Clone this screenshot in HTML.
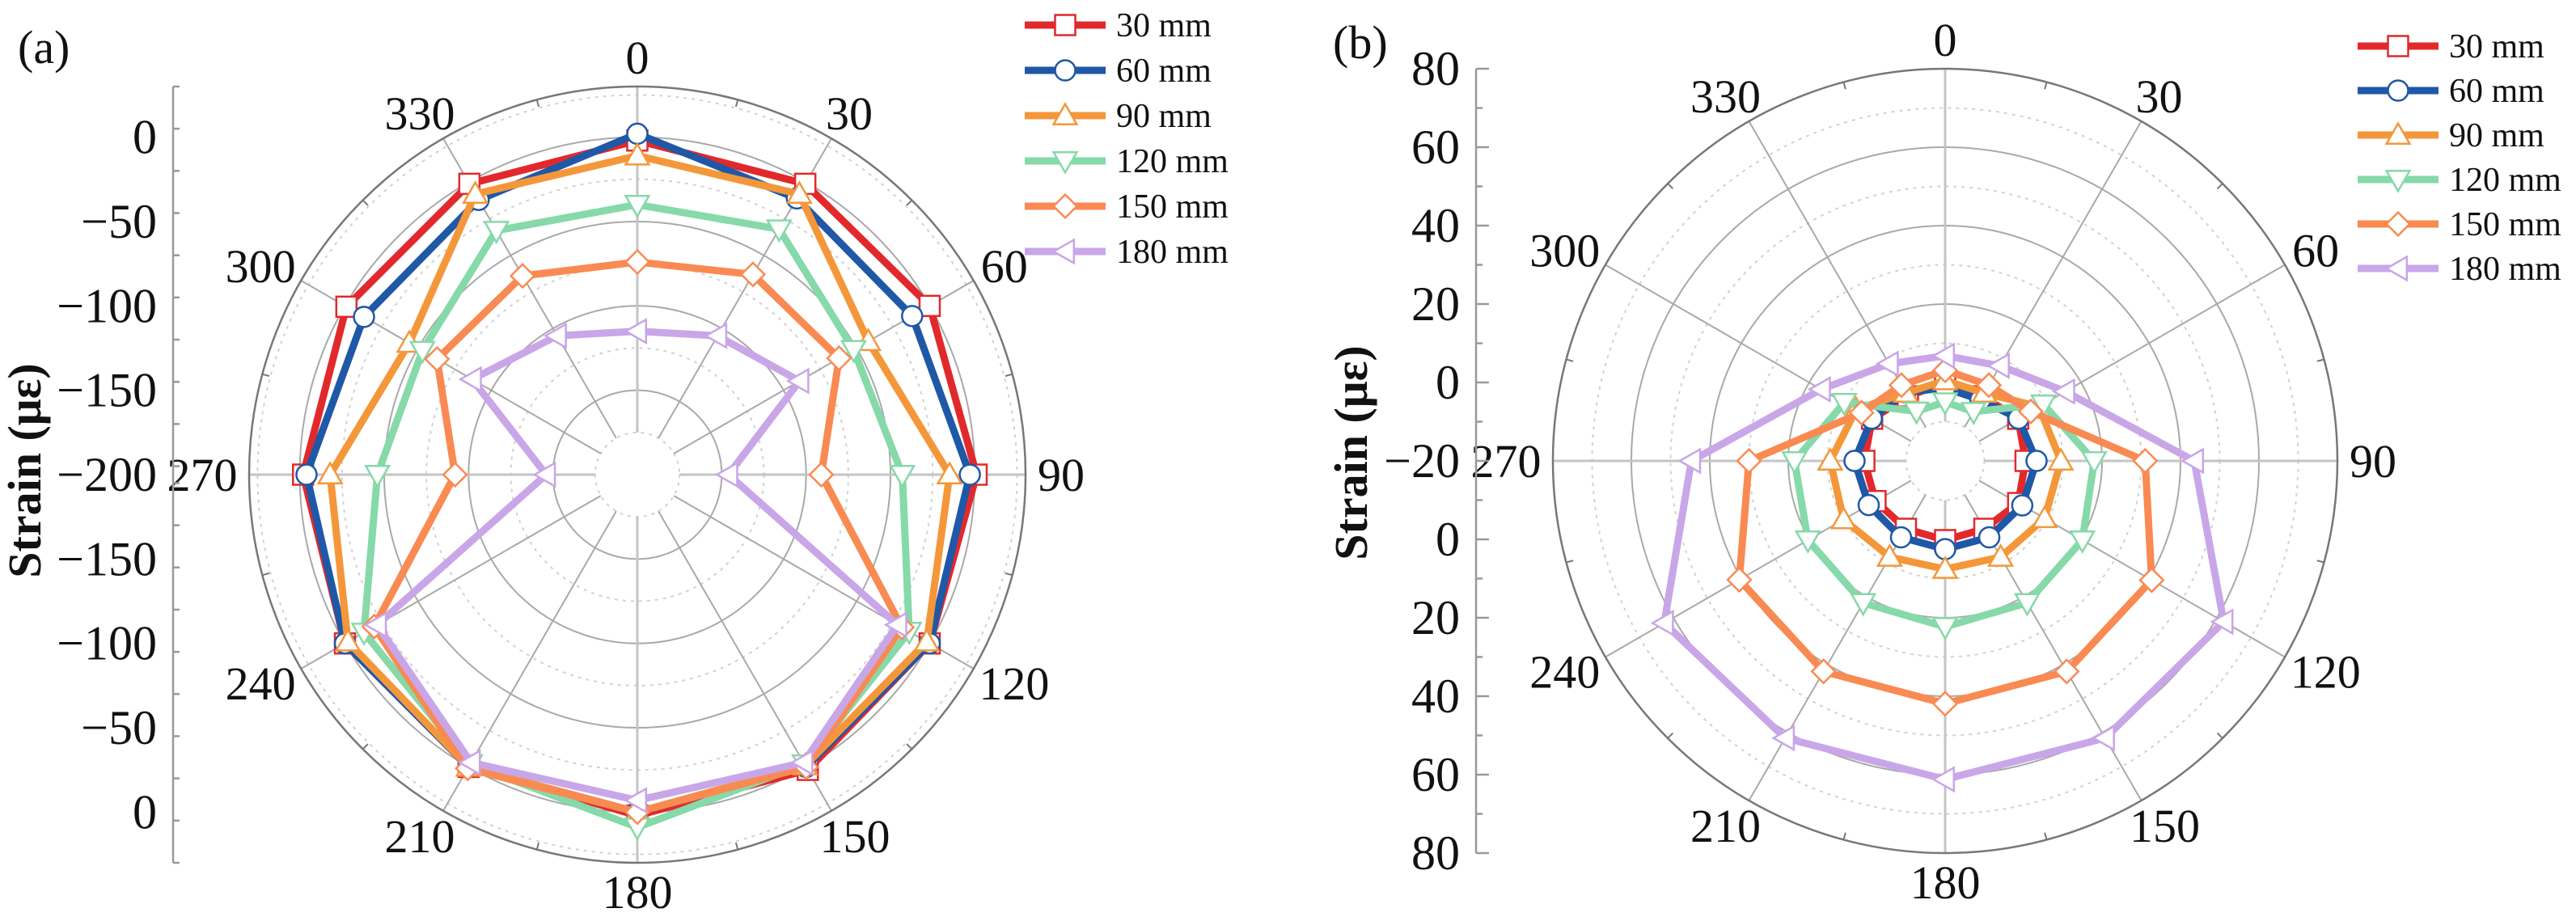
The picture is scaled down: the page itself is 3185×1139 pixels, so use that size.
<!DOCTYPE html>
<html><head><meta charset="utf-8">
<style>
html,body{margin:0;padding:0;background:#fff;}
svg{display:block;font-family:"Liberation Serif","Times New Roman",serif;}
svg text{font-family:"Liberation Serif","Times New Roman",serif;fill:#111;}
</style></head>
<body>
<svg id="fig" width="3185" height="1139" viewBox="0 0 3185 1139" font-family="Liberation Serif, serif" xmlns="http://www.w3.org/2000/svg"></svg>
<script>
// ---- data ----
const angles = [0,30,60,90,120,150,180,210,240,270,300,330];
const seriesNames = ["30 mm","60 mm","90 mm","120 mm","150 mm","180 mm"];
const seriesColors = ["#E1292C","#1F58A6","#F4973A","#86D9A9","#F98A52","#C9A6E8"];
const seriesMarkers = ["square","circle","triangle-up","triangle-down","diamond","triangle-left"];
// chart (a)
const a30  = [-2,-1,0,1,0,2,2,0,0,-2,-1,-1];
const a60  = [2,-11,-12,-3,0,0,0,0,0,-4,-13,-12];
const a90  = [-11,-8,-42,-15,-2,-1,0,0,-2,-18,-44,-8];
const a120 = [-40,-32,-52,-43,-14,-2,9,-2,-13,-46,-53,-33];
const a150 = [-74,-63,-62,-91,-19,0,0,1,-20,-92,-63,-64];
const a180 = [-115,-105,-89,-146,-22,-3,-7,-3,-22,-146,-87,-105];
const aTickLabels = ["0","\u221250","\u2212100","\u2212150","\u2212200","\u2212150","\u2212100","\u221250","0"];
// chart (b)
const b30  = [0,-1,1.5,0.5,1.5,0,0.2,0,0.5,0.6,1.5,-1];
const b60  = [-1.4,-2,1.6,3.3,2.7,2.5,2.5,2.5,2.5,3.1,1.6,0.2];
const b90  = [0.5,0,7.6,9.5,9.3,8.3,7.6,8.3,9.9,9.3,6.2,0];
const b120 = [-5,-5.5,8.9,18,20.4,21.8,22.3,21.8,20.4,18.4,9.7,-5.4];
const b150 = [3.1,2.3,5.2,31,40.8,42,41.9,42,40.6,30,4.6,2.3];
const b180 = [6.8,8,15.4,43.5,62,61.6,61.2,61.6,62.7,44.7,16.5,8.6];
const bTickLabels = ["80","60","40","20","0","\u221220","0","20","40","60","80"];

const NS = "http://www.w3.org/2000/svg";
const svg = document.getElementById("fig");
const FONT = "'Liberation Serif', 'Times New Roman', serif";
function mk(tag, attrs, parent){
  const e = document.createElementNS(NS, tag);
  for (const k in attrs) e.setAttribute(k, attrs[k]);
  if (tag === "text") { e.setAttribute("font-family", FONT); e.style.fontFamily = FONT; }
  (parent||svg).appendChild(e);
  return e;
}

function markerShape(g, type, x, y, s, color){
  let e;
  const h = s/2;
  const st = {fill:"#fff", stroke:color, "stroke-width":2.5};
  if (type==="square") e = mk("rect", Object.assign({x:x-h,y:y-h,width:s,height:s}, st), g);
  else if (type==="circle") e = mk("circle", Object.assign({cx:x,cy:y,r:h}, st), g);
  else {
    let pts;
    const t = h*1.15;
    if (type==="triangle-up") pts = [[x,y-t],[x+t,y+t*0.75],[x-t,y+t*0.75]];
    else if (type==="triangle-down") pts = [[x,y+t],[x+t,y-t*0.75],[x-t,y-t*0.75]];
    else if (type==="triangle-left") pts = [[x-t,y],[x+t*0.75,y-t],[x+t*0.75,y+t]];
    else pts = [[x,y-t],[x+t,y],[x,y+t],[x-t,y]];
    e = mk("polygon", Object.assign({points:pts.map(p=>p.join(",")).join(" ")}, st), g);
  }
  return e;
}

function drawChart(cfg){
  const g = mk("g", {});
  
  
  const cx = cfg.cx, cy = cfg.cy, R = cfg.R;
  const k = R/(cfg.rmax-cfg.rmin);
  const rad = v => (v-cfg.rmin)*k;
  const pos = (ang, v) => { const t = ang*Math.PI/180, r = rad(v); return [cx + r*Math.sin(t), cy - r*Math.cos(t)]; };

  const grid = mk("g", {}, g);
  
  
  for (let v = cfg.rmin + cfg.minor; v < cfg.rmax - 0.001; v += cfg.minor){
    const isMajor = Math.abs(((v - cfg.rmin) / cfg.major) - Math.round((v - cfg.rmin) / cfg.major)) < 1e-6;
    const c = mk("circle", {cx:cx, cy:cy, r:rad(v), fill:"none",
      stroke: isMajor ? "#a9a9a9" : "#d2d2d2", "stroke-width": 2,
      "stroke-dasharray": isMajor ? "none" : "4 6"}, grid);
    
    
  }
  const r0 = rad(cfg.rmin + cfg.minor);
  for (let a = 0; a < 360; a += 30){
    const t = a*Math.PI/180;
    const l = mk("line", {x1:cx+r0*Math.sin(t), y1:cy-r0*Math.cos(t), x2:cx+R*Math.sin(t), y2:cy-R*Math.cos(t),
      stroke: (a%90===0) ? "#c4c4c4" : "#a9a9a9", "stroke-width": (a%90===0)? 3 : 2}, grid);
    
    
  }
  const oc = mk("circle", {cx:cx, cy:cy, r:R, fill:"none", stroke:"#777", "stroke-width":2.5}, g);
  
  
  for (let a = 15; a < 360; a += 30){
    const t = a*Math.PI/180;
    const tk = mk("line", {x1:cx+R*Math.sin(t), y1:cy-R*Math.cos(t), x2:cx+(R-9)*Math.sin(t), y2:cy-(R-9)*Math.cos(t), stroke:"#777", "stroke-width":2}, g);
    
    
  }
  for (let a = 0; a < 360; a += 30){
    const t = a*Math.PI/180;
    const txt = String(a);
    const w = txt.length*28, h = 40;
    const d = R + 16;
    const x = cx + d*Math.sin(t) + Math.sin(t)*w/2;
    const y = cy - d*Math.cos(t) - Math.cos(t)*h/2 + 20;
    const tl = mk("text", {x:x, y:y, "font-size":58, "text-anchor":"middle"}, g);
    tl.textContent = txt;
    
    
  }
  cfg.series.forEach((vals, i) => {
    const sg = mk("g", {}, g);
    
    
    const pts = angles.map((a, j) => pos(a, vals[j]));
    const pl = mk("polygon", {points: pts.map(p=>p.join(",")).join(" "), fill:"none", stroke:seriesColors[i], "stroke-width":9, "stroke-linejoin":"miter"}, sg);
    
    
    pts.forEach(p => {
      const m = markerShape(sg, seriesMarkers[i], p[0], p[1], 25, seriesColors[i]);
      
      
    });
  });
  const ax = mk("g", {}, g);
  
  
  const axl = mk("line", {x1:cfg.axisX, y1:cy-R, x2:cfg.axisX, y2:cy+R, stroke:"#999", "stroke-width":2.5}, ax);
  
  
  for (const side of [-1, 1]){
    const vals = [];
    for (let v = cfg.rmax; v > cfg.rmin - 0.001; v -= cfg.minor) vals.push(v);
    vals.forEach(v => {
      if (side === 1 && Math.abs(v-cfg.rmin) < 1e-6) return;
      const y = cy + side*rad(v);
      const isMajor = Math.abs(((cfg.firstLabel - v) / cfg.major) - Math.round((cfg.firstLabel - v) / cfg.major)) < 1e-6 && v <= cfg.firstLabel + 1e-6;
      const tk = mk("line", {x1:cfg.axisX, y1:y, x2:cfg.axisX + (isMajor?16:8), y2:y, stroke:"#999", "stroke-width":2.5}, ax);
      
      
    });
  }
  cfg.tickLabels.forEach((lab, i) => {
    const n = cfg.tickLabels.length;
    const v = (i < (n-1)/2) ? cfg.firstLabel - i*cfg.major : cfg.rmin + (i-(n-1)/2)*cfg.major;
    const side = (i < (n-1)/2) ? -1 : 1;
    const y = (i === (n-1)/2) ? cy : cy + side*rad(v);
    const tl = mk("text", {x:cfg.axisX-20, y:y+20, "font-size":60, "text-anchor":"end"}, ax);
    tl.textContent = lab;
    
    
  });
  const yt = mk("text", {x:0, y:0, "font-size":58, "font-weight":"bold", "text-anchor":"middle", transform:"translate(" + (cfg.ylabX) + "," + cfg.ylabY + ") rotate(-90)"}, g);
  yt.textContent = "Strain (\u03bc\u03b5)";
  
  
  const pl = mk("text", {x:cfg.panelX, y:cfg.panelY, "font-size":58}, g);
  pl.textContent = cfg.panel;
  
  
  const lg = mk("g", {}, g);
  
  
  seriesNames.forEach((nm, i) => {
    const y = cfg.legY + i*cfg.legDy;
    const eg = mk("g", {}, lg);
    
    
    mk("line", {x1:cfg.legX, y1:y, x2:cfg.legX+100, y2:y, stroke:seriesColors[i], "stroke-width":9}, eg);
    markerShape(eg, seriesMarkers[i], cfg.legX+50, y, 25, seriesColors[i]);
    const t = mk("text", {x:cfg.legX+113, y:y+14, "font-size":42}, eg);
    t.textContent = nm;
  });
}

drawChart({name:"chart-a", cx:788, cy:587, R:480, rmin:-200, rmax:30, major:50, minor:25, firstLabel:0,
  series:[a30,a60,a90,a120,a150,a180], tickLabels:aTickLabels, axisX:214,
  ylabX:50, ylabY:582, panel:"(a)", panelX:22, panelY:78, legX:1267, legY:31, legDy:56});
drawChart({name:"chart-b", cx:2405, cy:570, R:485, rmin:-20, rmax:80, major:20, minor:10, firstLabel:80,
  series:[b30,b60,b90,b120,b150,b180], tickLabels:bTickLabels, axisX:1825,
  ylabX:1690, ylabY:560, panel:"(b)", panelX:1648, panelY:72, legX:2915, legY:57, legDy:55});
</script>
</body></html>
